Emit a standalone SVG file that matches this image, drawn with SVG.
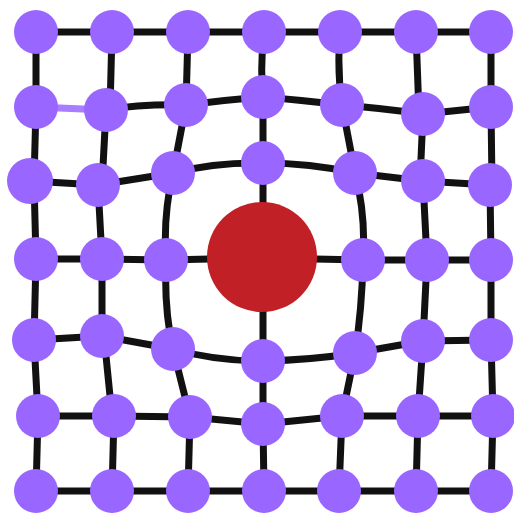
<svg xmlns="http://www.w3.org/2000/svg" width="514" height="516" viewBox="0 0 514 516">
<style>
.e{fill:none;stroke:#111111;stroke-width:7;stroke-linecap:round}
.ep{fill:none;stroke:#9966ff;stroke-width:7;stroke-linecap:round;opacity:0.85}
.n{fill:#9966ff}
.c{fill:#c02026}
</style>
<rect width="514" height="516" fill="#ffffff"/>
<g id="connectors">
<!-- row 0 horizontal -->
<path class="e" d="M36,32 L112,32 M112,32 L188,32 M188,32 L264,32 M264,32 L340,32 M340,32 L416,32 M416,32 L491,32"/>
<!-- row 1 horizontal -->
<path class="ep" d="M36,107 L106,110"/>
<path class="e" d="M106,110 Q140,104 186,105 M186,105 Q225,100 263,97 M263,97 Q300,100 342,105 M342,105 Q380,108 423,114 M423,114 L491,107"/>
<!-- row 2 horizontal -->
<path class="e" d="M30,181 L98,185 M98,185 L173,173 M173,173 Q215,162 263,163 M263,163 Q310,163 355,173 M355,173 L423,181 M423,181 L490,185"/>
<!-- row 3 horizontal -->
<path class="e" d="M36,259 L102,259 M102,259 L166,260 M166,260 L210,259 M315,259 L363,260 M363,260 L427,260 M427,260 L491,260"/>
<!-- row 4 horizontal -->
<path class="e" d="M34,340 L102,336 M102,336 L173,349 M173,349 Q215,361 263,361 M263,361 Q312,360 355,353 M355,353 L423,341 M423,341 L491,340"/>
<!-- row 5 horizontal -->
<path class="e" d="M38,416 L114,416 M114,416 L190,417 M190,417 L263,424 M263,424 L342,416 M342,416 L418,416 M418,416 L493,416"/>
<!-- row 6 horizontal -->
<path class="e" d="M36,491 L112,491 M112,491 L188,491 M188,491 L264,491 M264,491 L339,491 M339,491 L416,491 M416,491 L491,491"/>
<!-- col 0 vertical -->
<path class="e" d="M36,32 L36,107 M36,107 L34,181 M34,181 L36,259 M36,259 L34,340 M34,340 L38,416 M38,416 L36,491"/>
<!-- col 1 vertical -->
<path class="e" d="M112,32 L110,110 M106,110 L102,185 M98,185 L102,259 M102,259 L102,336 M104,336 L112,416 M114,416 L112,491"/>
<!-- col 2 vertical -->
<path class="e" d="M188,32 L186,105 M186,105 L173,173 M173,173 Q163,215 166,260 M166,260 Q164,310 173,349 M173,349 L190,417 M190,417 L188,491"/>
<!-- col 3 vertical -->
<path class="e" d="M264,32 Q260,65 263,97 M263,97 L263,163 M263,163 L263,205 M263,310 L263,361 M263,361 L263,424 M263,424 L264,491"/>
<!-- col 4 vertical -->
<path class="e" d="M340,32 Q337,70 342,105 M342,105 L355,173 M355,173 Q366,215 363,260 M363,260 Q362,310 355,353 M355,353 L342,416 M342,416 L339,491"/>
<!-- col 5 vertical -->
<path class="e" d="M416,32 L419,114 M423,114 L420,181 M423,181 L427,260 M427,260 L423,341 M423,341 L418,416 M418,416 L416,491"/>
<!-- col 6 vertical -->
<path class="e" d="M491,32 L491,107 M491,107 L492,185 M490,185 L491,260 M491,260 L491,340 M491,340 L493,416 M493,416 L491,491"/>
</g>
<g id="center"><circle class="c" cx="262" cy="257" r="55"/></g>
<g id="row0">
<circle id="n00" class="n" cx="36" cy="32" r="22"/>
<circle id="n01" class="n" cx="112" cy="32" r="22"/>
<circle id="n02" class="n" cx="188" cy="32" r="22"/>
<circle id="n03" class="n" cx="264" cy="32" r="22"/>
<circle id="n04" class="n" cx="340" cy="32" r="22"/>
<circle id="n05" class="n" cx="416" cy="32" r="22"/>
<circle id="n06" class="n" cx="491" cy="32" r="22"/>
</g>
<g id="row1">
<circle id="n10" class="n" cx="36" cy="107" r="22"/>
<circle id="n11" class="n" cx="106" cy="110" r="22"/>
<circle id="n12" class="n" cx="186" cy="105" r="22"/>
<circle id="n13" class="n" cx="263" cy="97" r="22"/>
<circle id="n14" class="n" cx="342" cy="105" r="22"/>
<circle id="n15" class="n" cx="423" cy="114" r="22"/>
<circle id="n16" class="n" cx="491" cy="107" r="22"/>
</g>
<g id="row2">
<circle id="n20" class="n" cx="30" cy="181" r="23"/>
<circle id="n21" class="n" cx="98" cy="185" r="22"/>
<circle id="n22" class="n" cx="173" cy="173" r="22"/>
<circle id="n23" class="n" cx="263" cy="163" r="22"/>
<circle id="n24" class="n" cx="355" cy="173" r="22"/>
<circle id="n25" class="n" cx="423" cy="181" r="22"/>
<circle id="n26" class="n" cx="490" cy="185" r="22"/>
</g>
<g id="row3">
<circle id="n30" class="n" cx="36" cy="259" r="22"/>
<circle id="n31" class="n" cx="102" cy="259" r="22"/>
<circle id="n32" class="n" cx="166" cy="260" r="22"/>
<circle id="n34" class="n" cx="363" cy="260" r="22"/>
<circle id="n35" class="n" cx="427" cy="260" r="22"/>
<circle id="n36" class="n" cx="491" cy="260" r="22"/>
</g>
<g id="row4">
<circle id="n40" class="n" cx="34" cy="340" r="22"/>
<circle id="n41" class="n" cx="102" cy="336" r="22"/>
<circle id="n42" class="n" cx="173" cy="349" r="22"/>
<circle id="n43" class="n" cx="263" cy="361" r="22"/>
<circle id="n44" class="n" cx="355" cy="353" r="22"/>
<circle id="n45" class="n" cx="423" cy="341" r="22"/>
<circle id="n46" class="n" cx="491" cy="340" r="22"/>
</g>
<g id="row5">
<circle id="n50" class="n" cx="38" cy="416" r="22"/>
<circle id="n51" class="n" cx="114" cy="416" r="22"/>
<circle id="n52" class="n" cx="190" cy="417" r="22"/>
<circle id="n53" class="n" cx="263" cy="424" r="22"/>
<circle id="n54" class="n" cx="342" cy="416" r="22"/>
<circle id="n55" class="n" cx="418" cy="416" r="22"/>
<circle id="n56" class="n" cx="493" cy="416" r="22"/>
</g>
<g id="row6">
<circle id="n60" class="n" cx="36" cy="491" r="22"/>
<circle id="n61" class="n" cx="112" cy="491" r="22"/>
<circle id="n62" class="n" cx="188" cy="491" r="22"/>
<circle id="n63" class="n" cx="264" cy="491" r="22"/>
<circle id="n64" class="n" cx="339" cy="491" r="22"/>
<circle id="n65" class="n" cx="416" cy="491" r="22"/>
<circle id="n66" class="n" cx="491" cy="491" r="22"/>
</g>
</svg>
